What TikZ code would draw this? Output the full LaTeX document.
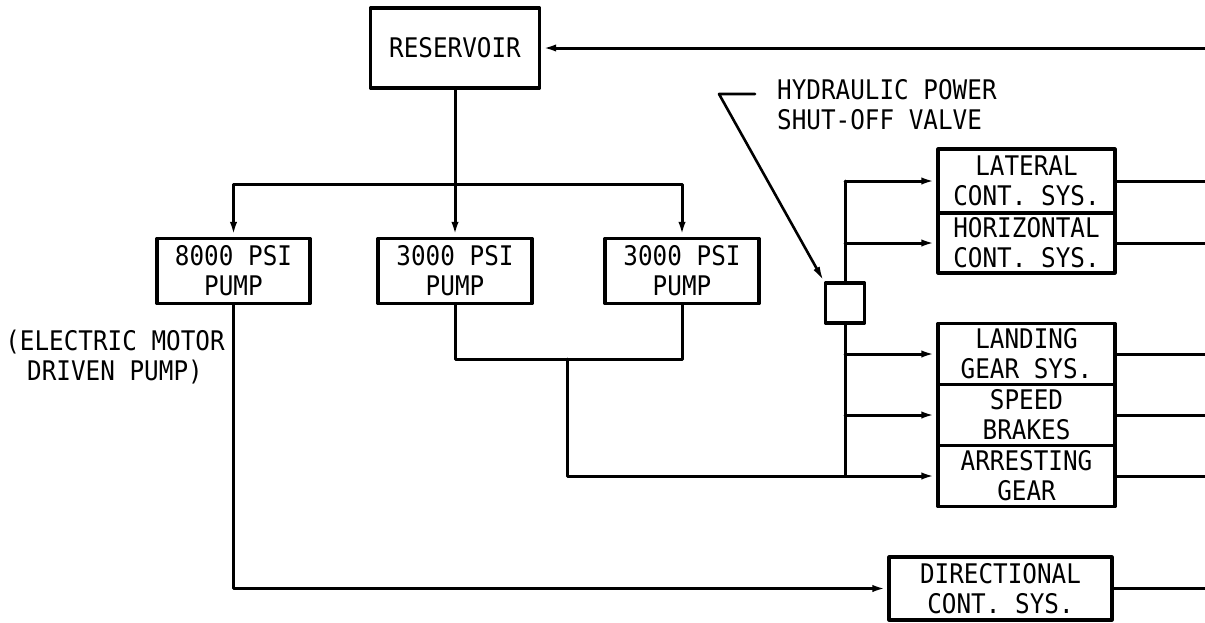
\documentclass[tikz,border=0pt]{standalone}
\usepackage{fontspec}
\newfontfamily\leroy[FakeStretch=0.9]{DejaVu Sans Mono}
\newcommand\lettering{\leroy\fontsize{27}{30}\selectfont}
\usetikzlibrary{arrows.meta}
\tikzset{
  every picture/.style={line join=round, line cap=round, >={Latex[length=15pt,width=7pt]}},
  unit/.style={draw, line width=3.2pt, inner sep=0pt, align=center, font=\lettering},
  pipe/.style={line width=3pt},
  lead/.style={line width=2.6pt},
}

\begin{document}
\begin{tikzpicture}[x=1pt,y=-1pt]
\useasboundingbox (0,0) rectangle (1205,622);
\node[unit,minimum width=169pt,minimum height=80pt] (res) at (455,48) {RESERVOIR};
\node[unit,minimum width=153pt,minimum height=65pt] (p8) at (233.5,271) {8000 PSI\\PUMP};
\node[unit,minimum width=154pt,minimum height=65pt] (p3a) at (455,271) {3000 PSI\\PUMP};
\node[unit,minimum width=154pt,minimum height=65pt] (p3b) at (682,271) {3000 PSI\\PUMP};
\node[unit,minimum width=39pt,minimum height=40pt] (valve) at (845,303) {};
\node[unit,minimum width=177pt,minimum height=64pt] (lat) at (1026.5,181) {LATERAL\\CONT. SYS.};
\node[unit,minimum width=177pt,minimum height=60pt] (hor) at (1026.5,243) {HORIZONTAL\\CONT. SYS.};
\node[unit,minimum width=177pt,minimum height=61pt] (land) at (1026.5,354) {LANDING\\GEAR SYS.};
\node[unit,minimum width=177pt,minimum height=61pt] (spd) at (1026.5,415) {SPEED\\BRAKES};
\node[unit,minimum width=177pt,minimum height=61pt] (arr) at (1026.5,476) {ARRESTING\\GEAR};
\node[unit,minimum width=223pt,minimum height=63pt] (dir) at (1000.5,588.5) {DIRECTIONAL\\CONT. SYS.};
\node[anchor=west,align=left,font=\lettering,inner sep=0pt] (note) at (777,105) {HYDRAULIC POWER\\SHUT-OFF VALVE};
\node[align=center,font=\lettering,inner sep=0pt] (emd) at (115,357) {(ELECTRIC MOTOR\\DRIVEN PUMP)};

\coordinate (edge) at (1205,0);
\coordinate (split) at (455,184);
\coordinate (mrg) at (567,359);
\coordinate (bus) at (845,181);
\coordinate (tail) at (755,94);
\coordinate (bend) at (719,94);

\draw[pipe,->] (edge |- res) -- (res);
\draw[pipe,->] (res) -- (p3a);
\draw[pipe,->] (split) -| (p8);
\draw[pipe,->] (split) -| (p3b);
\draw[pipe] (p3a) |- (mrg);
\draw[pipe] (p3b) |- (mrg);
\draw[pipe,->] (mrg) |- (arr);
\draw[pipe,->] (p8) |- (dir);
\draw[pipe] (bus) -- (valve) (valve) -- (valve |- arr);
\draw[pipe,->] (bus) -- (lat);
\foreach \n in {hor,land,spd}
  \draw[pipe,->] (valve |- \n) -- (\n);
\foreach \n in {lat,hor,land,spd,arr,dir}
  \draw[pipe] (\n) -- (\n -| edge);
\draw[lead,->] (tail) -- (bend) -- (valve.north west);
\end{tikzpicture}
\end{document}
